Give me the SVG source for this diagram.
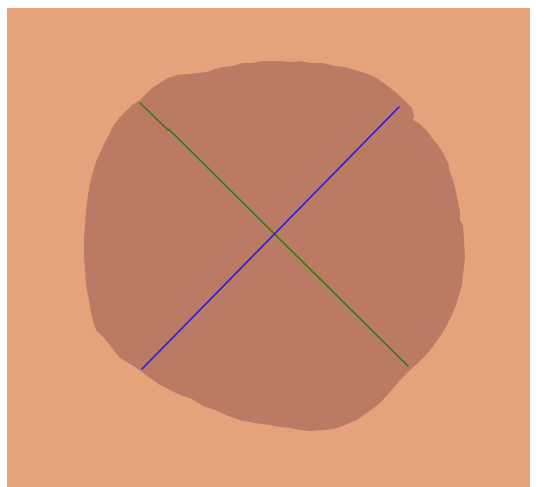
<svg xmlns="http://www.w3.org/2000/svg" width="536" height="487" viewBox="0 0 536 487">
<style>
.line{fill:none;stroke-width:1.6;stroke-linecap:round}
</style>
<rect x="0" y="0" width="536" height="487" fill="#ffffff"/>
<rect x="7" y="8" width="523" height="479" fill="#E5A27B"/>
<polygon fill="#BA7A64" points="140,100 147,93 152,88 160,83 168,78 177,75 190,74 207,72 215,69 223,67 232,66 243,63 252,63 262,61 280,61 292,62 300,61 310,63 322,63 335,66 345,67 355,70 365,73 375,77 385,84 393,90 400,96 405,101 412,108 414,115 413,120 420,124 427,131 432,138 438,145 443,153 448,163 450,172 453,180 456,192 458,202 460,212 460,220 463,225 464,240 465,258 463,275 462,285 459,295 456,305 452,315 447,325 441,335 434,345 426,355 418,363 410,370 400,380 390,392 380,403 368,412 357,420 345,425 337,428 325,430 310,431 300,430 290,428 280,427 270,425 255,423 240,420 228,416 215,410 203,406 192,399 180,395 170,390 160,385 150,378 142,372 132,365 120,358 112,348 104,338 96,330 92,318 89,300 86,285 85,270 84,255 84,240 85,225 86,210 88,195 90,183 93,172 96,162 100,153 105,142 110,133 112,128 120,117 126,111 132,105"/>
<g id="diagonals">
<polyline class="line" stroke="#2E7D12" points="140,103 168,130 169,129.5 408,366"/>
<line class="line" stroke="#1E1EE6" x1="142" y1="369" x2="399" y2="107"/>
</g>
</svg>
